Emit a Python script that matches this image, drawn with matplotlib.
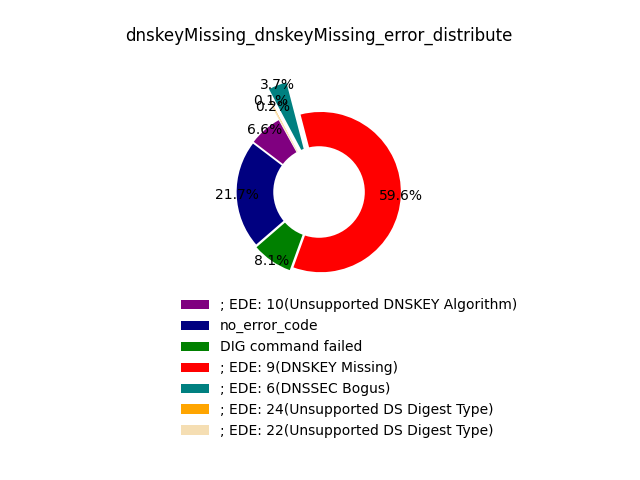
import matplotlib
matplotlib.use("Agg")
import matplotlib.pyplot as plt

labels = ["; EDE: 10(Unsupported DNSKEY Algorithm)", "no_error_code", "DIG command failed",
          "; EDE: 9(DNSKEY Missing)", "; EDE: 6(DNSSEC Bogus)",
          "; EDE: 24(Unsupported DS Digest Type)", "; EDE: 22(Unsupported DS Digest Type)"]
values = [6.6, 21.7, 8.1, 59.6, 3.7, 0.1, 0.2]
colors = ["purple", "navy", "green", "red", "teal", "orange", "wheat"]
explode = [0.02, 0.02, 0.03, 0.015, 0.3, 0.2, 0.15]

fig = plt.figure(figsize=(6.4, 4.8), dpi=100)
ax = fig.add_axes([0.275, 0.302, 0.447, 0.596])
wedges, texts, autotexts = ax.pie(values, colors=colors, explode=explode, startangle=119,
                                  radius=0.7, autopct="%1.1f%%", pctdistance=1.0)
ax.add_artist(plt.Circle((0, 0), 0.4, fc="white"))
ax.set_xlim(-1.25, 1.25)
ax.set_ylim(-1.25, 1.25)
ax.set_aspect("equal")
ax.set_title("dnskeyMissing_dnskeyMissing_error_distribute")
fig.legend(wedges, labels, loc="upper left", bbox_to_anchor=(0.274, 0.39),
           frameon=False, borderaxespad=0)
fig.savefig("out.png", dpi=100)
